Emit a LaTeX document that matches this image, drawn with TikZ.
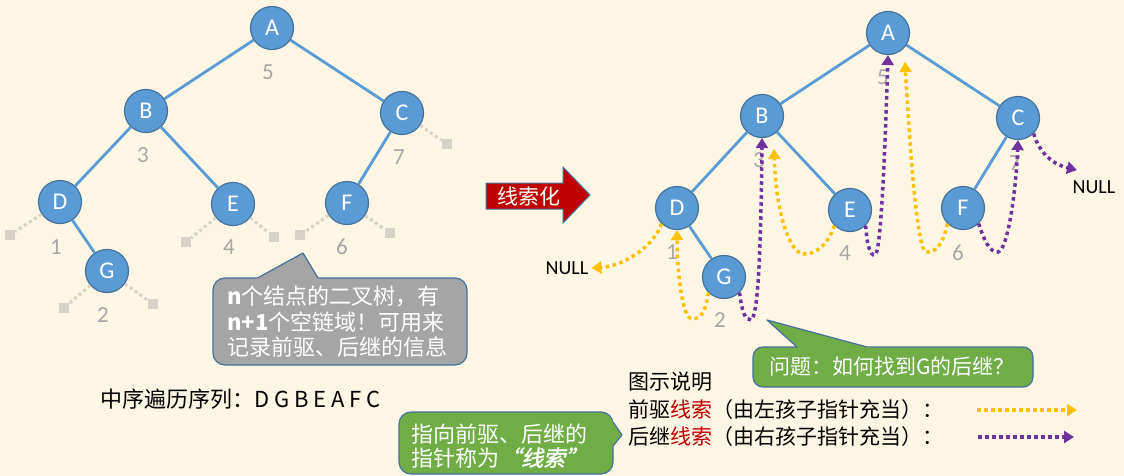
\documentclass[tikz,border=0pt]{standalone}
\usepackage{fontspec}
\setmainfont{Noto Sans CJK SC}
\newfontfamily\slantbold[FakeSlant=0.22, FakeBold=1.6]{Noto Sans CJK SC}
\newfontfamily\latinsf{Carlito}
\usetikzlibrary{arrows.meta}
\definecolor{bgc}{HTML}{FDF6E4}
\definecolor{nodeblue}{HTML}{5B9BD5}
\definecolor{borderblue}{HTML}{41719C}
\definecolor{numgray}{HTML}{A6A6A6}
\definecolor{stubgray}{HTML}{D6D2CA}
\definecolor{thrOrange}{HTML}{FFC000}
\definecolor{thrPurple}{HTML}{7030A0}
\definecolor{callgray}{HTML}{A5A5A5}
\definecolor{callgreen}{HTML}{70AD47}
\definecolor{darkred}{HTML}{C00000}
\newcommand{\myfs}[2]{\fontsize{#1}{#2}\selectfont}
\tikzset{
  tnode/.style={circle, fill=nodeblue, draw=borderblue, line width=1.2pt, minimum size=43pt, inner sep=0pt, text=white, font=\latinsf\myfs{24}{28}},
  tedge/.style={draw=nodeblue, line width=2.8pt},
  numlbl/.style={text=numgray, inner sep=0pt, font=\latinsf\myfs{23}{27}},
  stubsq/.style={fill=stubgray, minimum size=10pt, inner sep=0pt},
  stubline/.style={draw=stubgray, line width=3pt, dash pattern=on 3pt off 3pt},
  thrO/.style={draw=thrOrange, line width=3.5pt, dash pattern=on 3.5pt off 3.5pt, -{Triangle[width=12pt,length=10pt]}},
  thrP/.style={draw=thrPurple, line width=3.5pt, dash pattern=on 3.5pt off 3.5pt, -{Triangle[width=12pt,length=10pt]}},
  nulltxt/.style={inner sep=0pt, text=black, font=\latinsf\myfs{20}{24}},
  plaintxt/.style={inner sep=0pt, anchor=west, text=black},
  callborder/.style={draw=borderblue, line width=1.2pt, line join=round}
}
\begin{document}
\begin{tikzpicture}[x=1pt,y=-1pt]
\useasboundingbox (0,0) rectangle (1124,476);
\fill[bgc] (0,0) rectangle (1124,476);
\clip (0,0) rectangle (1124,476);

% ---------- left tree ----------
\node[tnode] (A) at (272,28) {A};
\node[tnode] (B) at (146,111) {B};
\node[tnode] (C) at (402,113) {C};
\node[tnode] (D) at (60,202) {D};
\node[tnode] (E) at (233,204) {E};
\node[tnode] (F) at (347,203) {F};
\node[tnode] (G) at (107,271) {G};
\draw[tedge] (A) -- (B);
\draw[tedge] (A) -- (C);
\draw[tedge] (B) -- (D);
\draw[tedge] (B) -- (E);
\draw[tedge] (C) -- (F);
\draw[tedge] (D) -- (G);

\node[stubsq] (sDl) at (10,235) {};
\node[stubsq] (sEl) at (186,242) {};
\node[stubsq] (sEr) at (274,237) {};
\node[stubsq] (sFl) at (300,235) {};
\node[stubsq] (sFr) at (390,233) {};
\node[stubsq] (sCr) at (447,144) {};
\node[stubsq] (sGl) at (64,308) {};
\node[stubsq] (sGr) at (153,304) {};
\draw[stubline] (D) -- (sDl);
\draw[stubline] (E) -- (sEl);
\draw[stubline] (E) -- (sEr);
\draw[stubline] (F) -- (sFl);
\draw[stubline] (F) -- (sFr);
\draw[stubline] (C) -- (sCr);
\draw[stubline] (G) -- (sGl);
\draw[stubline] (G) -- (sGr);

\node[numlbl] (nA) at (268,72) {5};
\node[numlbl] (nB) at (143,155) {3};
\node[numlbl] (nC) at (399,157) {7};
\node[numlbl] (nD) at (56,247) {1};
\node[numlbl] (nE) at (229,247) {4};
\node[numlbl] (nF) at (342,247) {6};
\node[numlbl] (nG) at (103,315) {2};

% ---------- right tree ----------
\node[tnode] (RA) at (888,33) {A};
\node[tnode] (RB) at (762,116) {B};
\node[tnode] (RC) at (1018,118) {C};
\node[tnode] (RD) at (677,208) {D};
\node[tnode] (RE) at (850,210) {E};
\node[tnode] (RF) at (963,208) {F};
\node[tnode] (RG) at (724,277) {G};
\draw[tedge] (RA) -- (RB);
\draw[tedge] (RA) -- (RC);
\draw[tedge] (RB) -- (RD);
\draw[tedge] (RB) -- (RE);
\draw[tedge] (RC) -- (RF);
\draw[tedge] (RD) -- (RG);

\node[numlbl] (rnA) at (883,77) {5};
\node[numlbl] (rnB) at (759,160) {3};
\node[numlbl] (rnC) at (1015,163) {7};
\node[numlbl] (rnD) at (672,252) {1};
\node[numlbl] (rnE) at (845,253) {4};
\node[numlbl] (rnF) at (958,253) {6};
\node[numlbl] (rnG) at (720,320) {2};

\node[nulltxt] (nullL) at (567,268) {NULL};
\node[nulltxt] (nullR) at (1094,187) {NULL};
\coordinate (tEB) at (774,149);
\coordinate (tFA) at (905,62);
\coordinate (tCN) at (1077,170);

% predecessor threads
\draw[thrO] (RD.-135) .. controls (655,245) and (625,266) .. ([xshift=3pt]nullL.east);
\draw[thrO] (RG.-135) .. controls (705,318) and (697,320) .. (690,318) .. controls (683,315) and (677,275) .. (RD.south);
\draw[thrO] (RE.-135) .. controls (828,245) and (815,255) .. (803,254) .. controls (790,252) and (776,215) .. (tEB);
\draw[thrO] (RF.-135) .. controls (943,245) and (935,253) .. (926,252) .. controls (917,250) and (910,150) .. (tFA);
% successor threads
\draw[thrP] (RG.-45) .. controls (742,312) and (745,320) .. (751,320) .. controls (758,318) and (761,250) .. (RB.south);
\draw[thrP] (RE.-45) .. controls (867,245) and (870,256) .. (875,255) .. controls (881,254) and (885,150) .. (RA.south);
\draw[thrP] (RF.-45) .. controls (984,240) and (990,253) .. (998,252) .. controls (1008,250) and (1016,190) .. (RC.south);
\draw[thrP] (RC.-45) .. controls (1040,155) and (1055,165) .. (tCN);

% ---------- big arrow ----------
\draw[fill=darkred, draw=borderblue, line width=1pt, line join=miter]
  (486,183) -- (563,183) -- (563,167) -- (590,195) -- (563,223) -- (563,209) -- (486,209) -- cycle;
\node[inner sep=0pt, text=white, font=\myfs{21}{25}] (arrtxt) at (529,196) {线索化};

% ---------- gray callout ----------
\draw[callborder, fill=callgray, rounded corners=12pt] (213,278) rectangle (467,365);
\fill[callgray] (253.9,280) -- (303,253) -- (319.2,280) -- cycle;
\draw[callborder] (257.5,278) -- (303,253) -- (318,278);
\node[anchor=west, align=left, text=white, inner sep=0pt, font=\myfs{22}{25.5}] (cgt) at (227,322)
  {\textbf{n}个结点的二叉树，有\\\textbf{n+1}个空链域！可用来\\记录前驱、后继的信息};

% ---------- inorder ----------
\node[plaintxt, font=\myfs{22}{26}] (inord) at (100,399) {中序遍历序列：D G B E A F C};

% ---------- green callout 1 ----------
\draw[callborder, fill=callgreen, rounded corners=12pt] (399,412) rectangle (613,474);
\fill[callgreen] (611,419.1) -- (622,435) -- (611,448.4) -- cycle;
\draw[callborder] (613,422) -- (622,435) -- (613,446);
\node[anchor=west, align=left, text=white, inner sep=0pt, font=\myfs{22}{23.5}] (cg1) at (411,446)
  {指向前驱、后继的\\指针称为{\slantbold “线索”}};

% ---------- green callout 2 ----------
\draw[callborder, fill=callgreen, rounded corners=10pt] (753,347) rectangle (1033,387);
\fill[callgreen] (799.2,349) -- (767,320) -- (874.4,349) -- cycle;
\draw[callborder] (797,347) -- (767,320) -- (867,347);
\node[inner sep=0pt, text=white, font=\myfs{21}{25}] (cg2) at (892,366) {问题：如何找到G的后继？};

% ---------- legend ----------
\node[plaintxt, font=\myfs{21}{25}] (lg0) at (628,382) {图示说明};
\node[plaintxt, font=\myfs{21}{25}] (lg1) at (628,410) {前驱\textcolor{darkred}{线索}（由左孩子指针充当）：};
\node[plaintxt, font=\myfs{21}{25}] (lg2) at (628,437) {后继\textcolor{darkred}{线索}（由右孩子指针充当）：};
\coordinate (lo1) at (977,410);
\coordinate (lo2) at (1077,410);
\coordinate (lp1) at (978,437);
\coordinate (lp2) at (1074,437);
\draw[thrO] (lo1) -- (lo2);
\draw[thrP] (lp1) -- (lp2);
\end{tikzpicture}
\end{document}
